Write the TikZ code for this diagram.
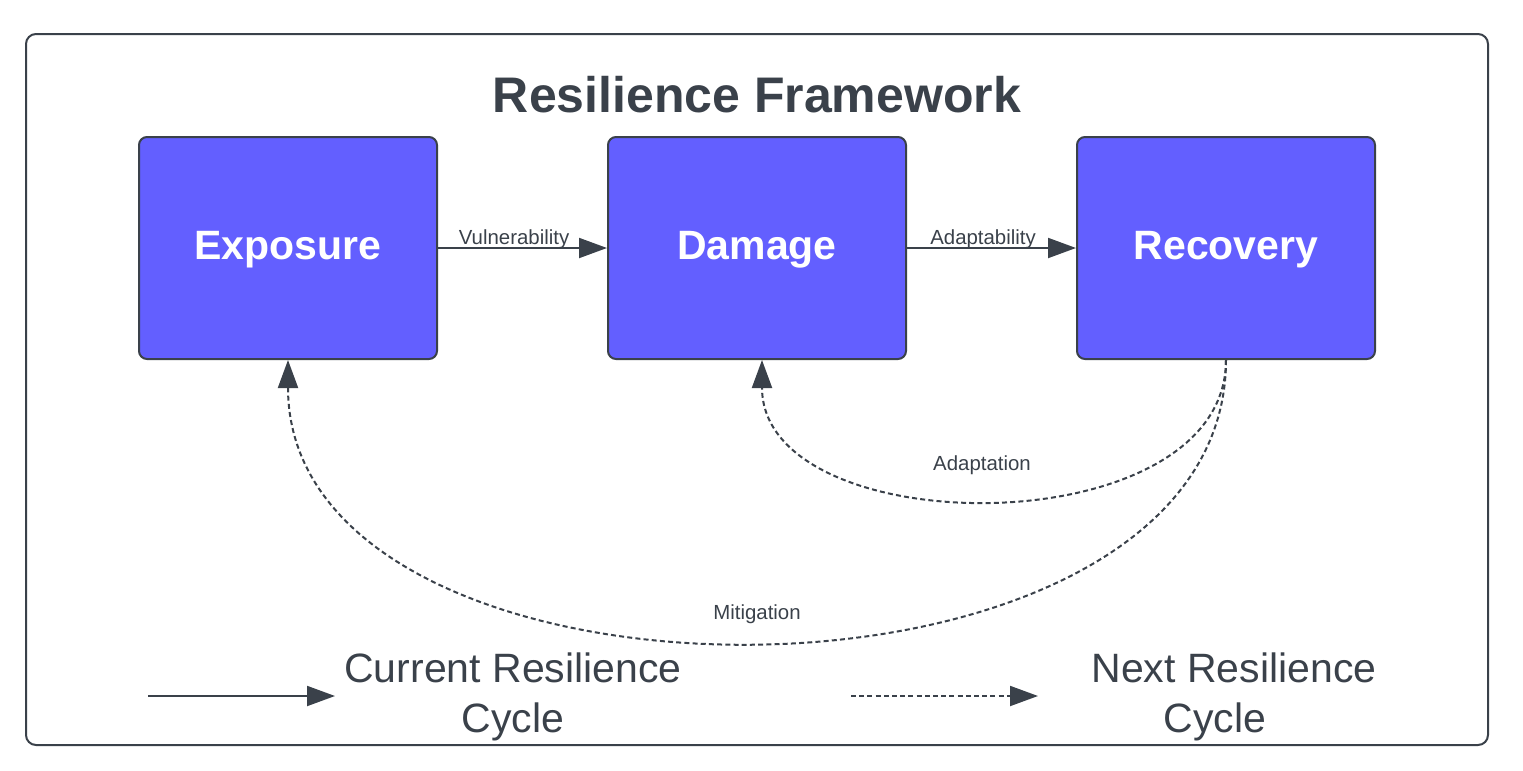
\documentclass[tikz,border=0pt]{standalone}
\usepackage{fontspec}
\setmainfont{Liberation Sans}
\usetikzlibrary{arrows.meta}
\definecolor{ink}{HTML}{3A414A}
\definecolor{boxfill}{HTML}{635FFF}
\newcommand{\lowerby}[1]{\raisebox{-1pt}[\height][\depth]{#1}}
\begin{document}
\begin{tikzpicture}[x=0.5pt,y=-0.5pt,
  stage/.style={draw=ink, line width=1pt, fill=boxfill, rounded corners=4pt,
    minimum width=149pt, minimum height=111pt, inner sep=0pt, text=white,
    font=\fontsize{20.5}{24}\selectfont\bfseries},
  flow/.style={draw=ink, line width=1pt, -{Triangle[length=14pt,width=10pt]}},
  nextflow/.style={flow, dash pattern=on 2.5pt off 1.6pt},
  lbl/.style={text=ink, font=\fontsize{10.2}{12}\selectfont, inner sep=0pt},
  legendtxt/.style={text=ink, font=\fontsize{20.5}{25}\selectfont, align=center, inner sep=0pt},
  titletxt/.style={text=ink, font=\fontsize{25}{30}\selectfont\bfseries, inner sep=0pt}]
\useasboundingbox (0,0) rectangle (1523,771);
\draw[ink, line width=1pt, rounded corners=5pt] (26,34) rectangle (1488,745);

\node[titletxt] (title) at (757,95) {Resilience Framework};

\node[stage] (exp) at (288,248) {\lowerby{Exposure}};
\node[stage] (dam) at (757,248) {\lowerby{Damage}};
\node[stage] (rec) at (1226,248) {\lowerby{Recovery}};

\draw[flow] (exp.east) -- (dam.west)
  node[lbl, pos=0.45, anchor=base, yshift=1.8pt] {Vulnerability};
\draw[flow] (dam.east) -- (rec.west)
  node[lbl, pos=0.45, anchor=base, yshift=1.8pt] {Adaptability};

\draw[nextflow] (rec.south) .. controls +(0,187) and +(0,185) .. ([xshift=2.5pt]dam.south)
  node[lbl, pos=0.5, xshift=-6pt, yshift=17pt] {Adaptation};
\draw[nextflow] (rec.south) .. controls +(0,375) and +(0,375) .. (exp.south)
  node[lbl, pos=0.5, yshift=13.5pt] {Mitigation};

\coordinate (cs) at (148,696);
\coordinate (ce) at (335,696);
\draw[flow] (cs) -- (ce);
\node[legendtxt] (cur) at (513,697) {Current Resilience\\Cycle};

\coordinate (ns) at (851,696);
\coordinate (ne) at (1038,696);
\draw[nextflow] (ns) -- (ne);
\node[legendtxt] (nxt) at (1215,697) {\hspace*{19pt}Next Resilience\\Cycle};
\end{tikzpicture}
\end{document}
